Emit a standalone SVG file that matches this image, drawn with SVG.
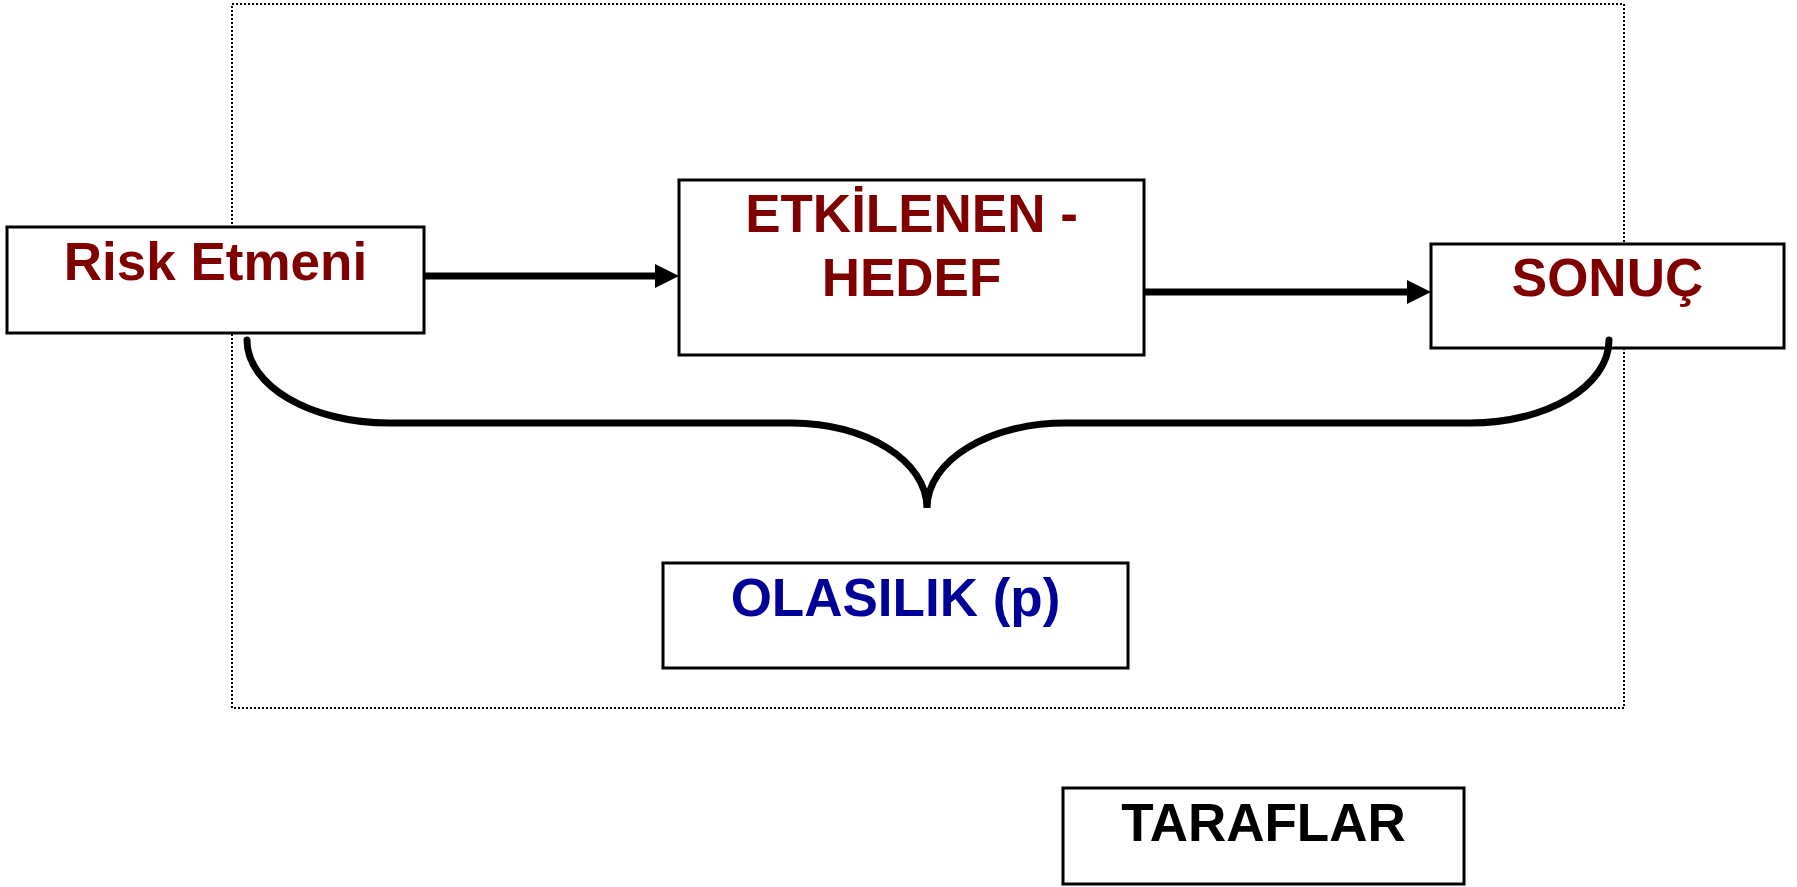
<svg xmlns="http://www.w3.org/2000/svg" width="1797" height="887" viewBox="0 0 1797 887">
<style>
.box{fill:#fff;stroke:#000;stroke-width:3}
.t{font-family:"Liberation Sans",Arial,sans-serif;font-weight:bold;font-size:53px;text-anchor:middle}
.red{fill:#800000}
.blue{fill:#000099}
.blk{fill:#000}
.conn{fill:none;stroke:#000;stroke-width:7}
</style>
<defs>
<marker id="ah" markerUnits="userSpaceOnUse" viewBox="0 0 24 24" markerWidth="24" markerHeight="24" refX="4" refY="12" orient="auto">
<path d="M0,0 L24,12 L0,24 z" fill="#000"/>
</marker>
</defs>
<rect id="frame" x="232" y="4" width="1392" height="704" fill="none" stroke="#000" stroke-width="2" stroke-dasharray="2,2"/>
<g id="risk">
<rect class="box" x="7" y="227" width="417" height="106"/>
<text class="t red" x="215.5" y="280">Risk Etmeni</text>
</g>
<g id="etkilenen">
<rect class="box" x="679" y="180" width="465" height="175"/>
<text class="t red" x="911.5" y="232">ETKİLENEN -</text>
<text class="t red" x="911.5" y="296">HEDEF</text>
</g>
<g id="sonuc">
<rect class="box" x="1431" y="244" width="353" height="104"/>
<text class="t red" x="1607.5" y="296">SONUÇ</text>
</g>
<g id="olasilik">
<rect class="box" x="663" y="563" width="465" height="105"/>
<text class="t blue" x="895.5" y="616">OLASILIK (p)</text>
</g>
<g id="taraflar">
<rect class="box" x="1063" y="788" width="401" height="96"/>
<text class="t blk" x="1263.5" y="841">TARAFLAR</text>
</g>
<g id="connectors">
<path class="conn" d="M424,276 H659" marker-end="url(#ah)"/>
<path class="conn" d="M1144,292 H1411" marker-end="url(#ah)"/>
<path class="conn" stroke-linecap="round" d="M247,340 C247,386 311,423 389,423 H792 C866,423 927,461 927,508 C927,461 988,423 1066,423 H1470 C1547,423 1609,386 1609,340"/>
</g>
</svg>
